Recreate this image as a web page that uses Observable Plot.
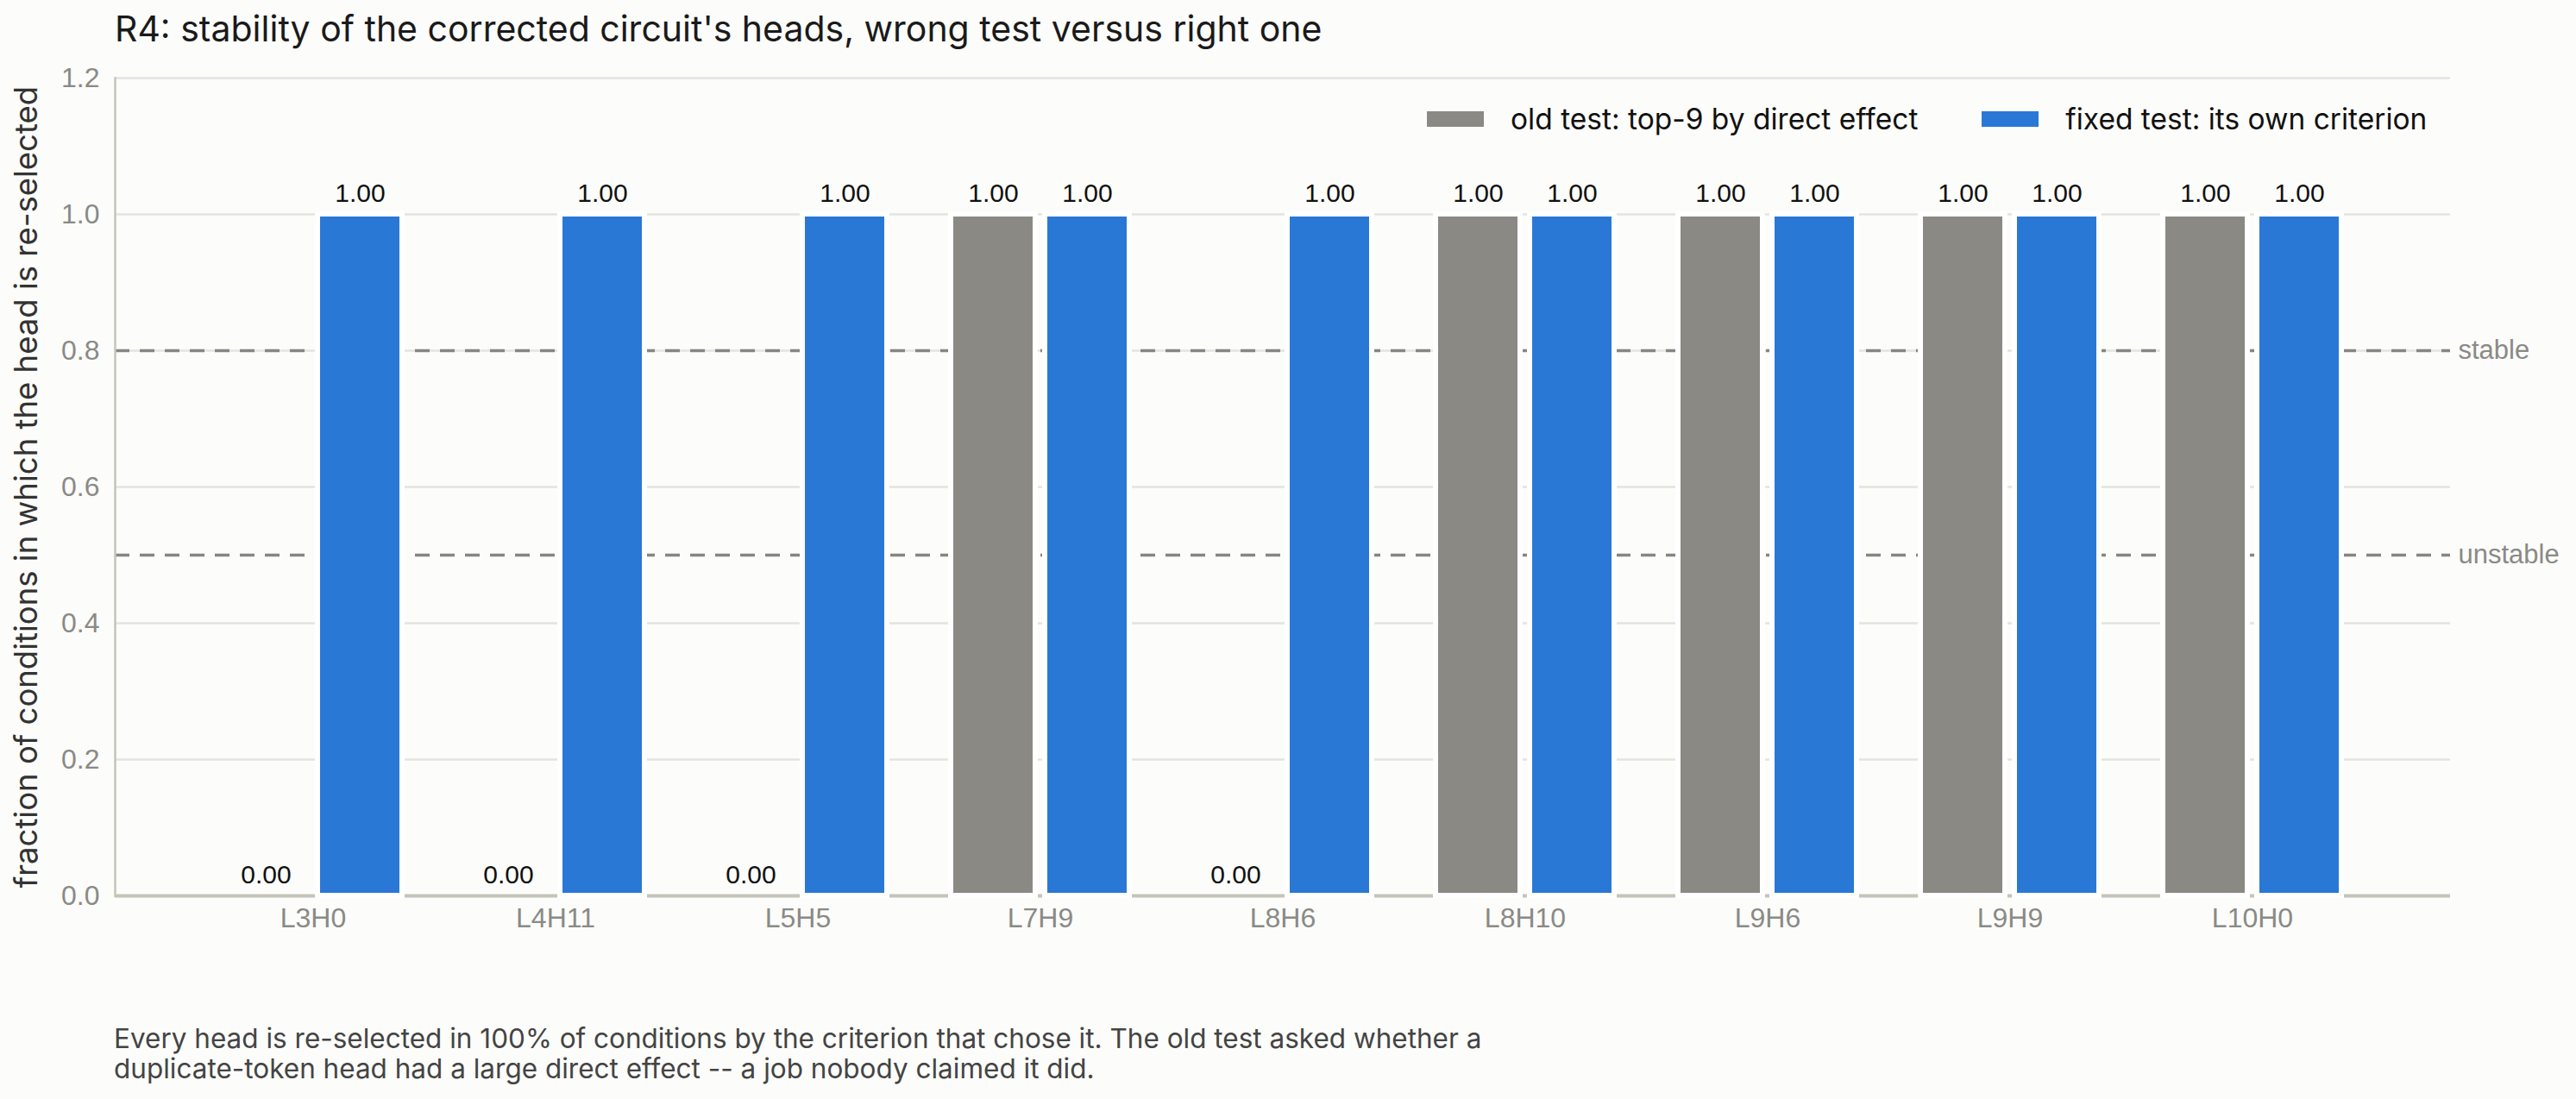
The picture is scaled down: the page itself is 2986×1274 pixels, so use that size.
<!DOCTYPE html>
<html>
<head>
<meta charset="utf-8">
<script src="https://cdn.jsdelivr.net/npm/d3@7"></script>
<script src="https://cdn.jsdelivr.net/npm/@observablehq/plot@0.6"></script>
<style>
  html, body { margin: 0; padding: 0; background: #fcfcfa; }
  #wrap { position: relative; width: 2986px; height: 1274px; background: #fcfcfa; font-family: "Liberation Sans", Arial, Helvetica, sans-serif; }
  #title { position: absolute; left: 133px; top: 8px; font-family: Inter, "Liberation Sans", sans-serif; font-size: 41px; color: #1a1a1a; white-space: nowrap; }
  #chart { position: absolute; left: 0; top: 0; }
  #legend { position: absolute; left: 1654px; top: 118px; height: 40px; display: flex; align-items: center; font-family: Inter, "Liberation Sans", sans-serif; font-size: 33.5px; color: #111; white-space: nowrap; }
  #legend .sw { display: inline-block; width: 66px; height: 18px; margin-right: 31px; }
  #legend .item { display: flex; align-items: center; }
  #legend .item + .item { margin-left: 74px; }
  #caption { position: absolute; left: 132px; top: 1186px; font-family: Inter, "Liberation Sans", sans-serif; font-size: 31.5px; line-height: 35px; color: #444; white-space: nowrap; }
</style>
</head>
<body>
<div id="wrap">
  <div id="chart"></div>
  <div id="title"></div>
  <div id="legend"></div>
  <div id="caption"></div>
</div>
<script>
const titleText = "R4: stability of the corrected circuit's heads, wrong test versus right one";
const heads = ["L3H0", "L4H11", "L5H5", "L7H9", "L8H6", "L8H10", "L9H6", "L9H9", "L10H0"];
const oldTest = [0, 0, 0, 1, 0, 1, 1, 1, 1];
const fixedTest = [1, 1, 1, 1, 1, 1, 1, 1, 1];
const seriesNames = ["old test: top-9 by direct effect", "fixed test: its own criterion"];
const seriesColors = ["#8a8984", "#2a78d6"];
const yTicks = [0, 0.2, 0.4, 0.6, 0.8, 1.0, 1.2];
const thresholds = [0.8, 0.5];
const thresholdLabels = ["stable", "unstable"];
const yLabel = "fraction of conditions in which the head is re-selected";
const captionLines = [
  "Every head is re-selected in 100% of conditions by the criterion that chose it. The old test asked whether a",
  "duplicate-token head had a large direct effect -- a job nobody claimed it did."
];

const oldData = heads.map((h, i) => ({head: h, value: oldTest[i]}));
const fixedData = heads.map((h, i) => ({head: h, value: fixedTest[i]}));
const fmt2 = d3.format(".2f");

const chart = Plot.plot({
  width: 2986,
  height: 1120,
  marginTop: 90,
  marginBottom: 82,
  marginLeft: 133,
  marginRight: 146,
  style: {background: "#fcfcfa", fontFamily: "'Liberation Sans', Arial, Helvetica, sans-serif"},
  x: {domain: heads, paddingInner: 0, paddingOuter: 0.307, label: null},
  y: {domain: [0, 1.2], label: null},
  marks: [
    Plot.gridY(yTicks, {stroke: "#e4e4de", strokeOpacity: 1, strokeWidth: 2.5}),
    Plot.ruleY(thresholds, {stroke: "#868682", strokeWidth: 3.5, strokeDasharray: "17,12"}),
    Plot.ruleY([0], {stroke: "#c4c4b8", strokeWidth: 4}),
    Plot.frame({anchor: "left", stroke: "#c4c4b8", strokeWidth: 2.5}),
    Plot.barY(oldData, {x: "head", y: "value", fill: seriesColors[0], stroke: "#ffffff", strokeWidth: 6, insetLeft: 37, insetRight: 146}),
    Plot.barY(fixedData, {x: "head", y: "value", fill: seriesColors[1], stroke: "#ffffff", strokeWidth: 6, insetLeft: 146, insetRight: 37}),
    Plot.text(oldData, {x: "head", y: "value", text: d => fmt2(d.value), dx: -54.5, dy: -15, lineAnchor: "bottom", fontSize: 30, fill: "#111"}),
    Plot.text(fixedData, {x: "head", y: "value", text: d => fmt2(d.value), dx: 54.5, dy: -15, lineAnchor: "bottom", fontSize: 30, fill: "#111"}),
    Plot.axisX({tickSize: 0, tickPadding: 14, fontSize: 32, color: "#8a8a86", label: null}),
    Plot.axisY(yTicks, {tickSize: 0, tickPadding: 18, fontSize: 32, color: "#8a8a86", tickFormat: d3.format(".1f"), label: null}),
    Plot.text([yLabel], {frameAnchor: "left", rotate: -90, textAnchor: "middle", lineAnchor: "middle", dx: -102, fontSize: 36.5, fontFamily: "Inter, 'Liberation Sans', sans-serif", fill: "#333", text: d => d}),
    Plot.text(thresholdLabels, {y: thresholds, frameAnchor: "right", textAnchor: "start", dx: 9, fontSize: 31, fill: "#8a8a86", text: d => d})
  ]
});
document.getElementById("chart").appendChild(chart);

document.getElementById("title").textContent = titleText;

const legend = document.getElementById("legend");
seriesNames.forEach((name, i) => {
  const item = document.createElement("div");
  item.className = "item";
  const sw = document.createElement("span");
  sw.className = "sw";
  sw.style.background = seriesColors[i];
  const label = document.createElement("span");
  label.textContent = name;
  item.appendChild(sw);
  item.appendChild(label);
  legend.appendChild(item);
});

const cap = document.getElementById("caption");
captionLines.forEach(line => {
  const div = document.createElement("div");
  div.textContent = line;
  cap.appendChild(div);
});
</script>
</body>
</html>
